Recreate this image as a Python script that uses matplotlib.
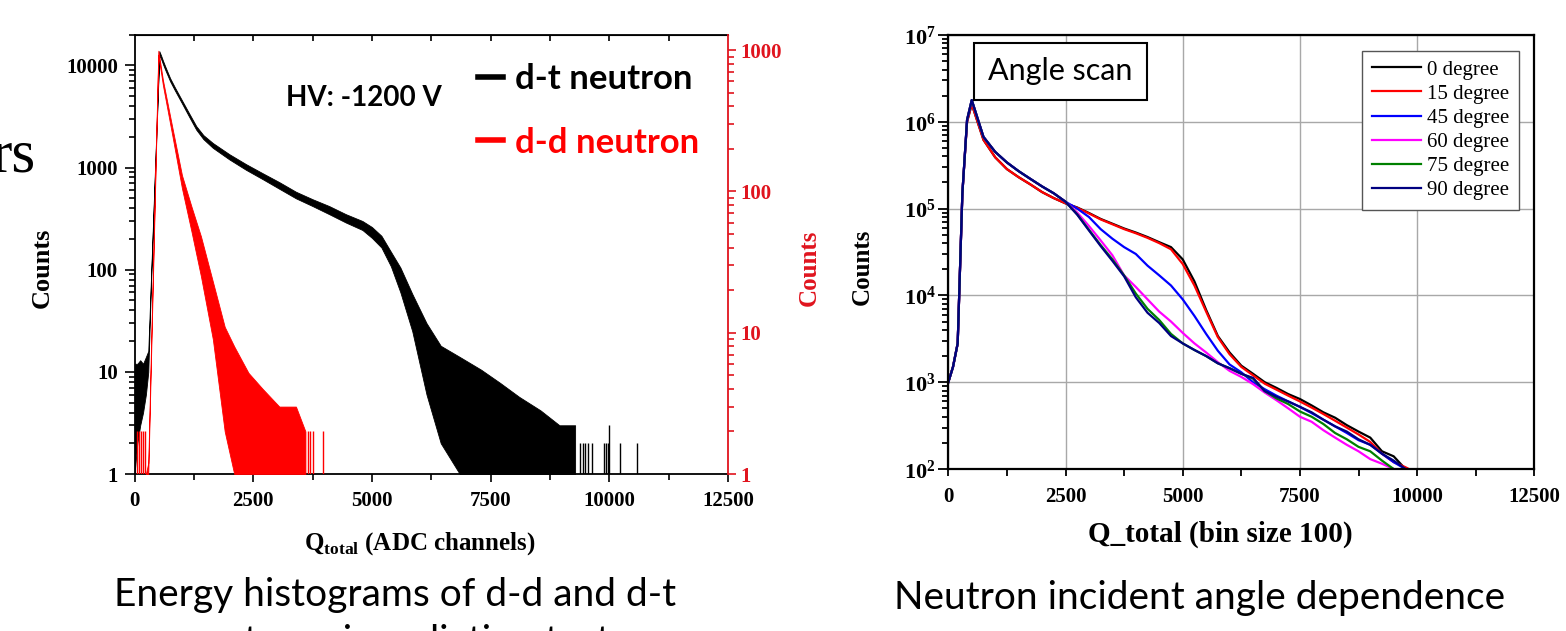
import math
import matplotlib.pyplot as plt
from matplotlib.lines import Line2D
from matplotlib.ticker import FixedLocator, LogLocator, FuncFormatter, NullFormatter

plt.rcParams['mathtext.fontset'] = 'custom'
plt.rcParams['mathtext.rm'] = 'Liberation Serif'
plt.rcParams['mathtext.bf'] = 'Liberation Serif:bold'

SERIF = 'Liberation Serif'
SANS = 'Lato'
AXRED = '#e0141e'

# ---- left panel: d-t (left axis) and d-d (right axis) histograms ----
dt_ch = [0, 60, 120, 180, 240, 290, 350, 400, 450, 500, 522, 560, 600, 650, 750, 850,
         1000, 1150, 1300, 1450, 1650, 2000, 2350, 2700, 3050, 3400, 3750, 4100, 4450,
         4800, 5000, 5200, 5400, 5600, 5850, 6150, 6450, 6850, 7300, 7700, 8100, 8550,
         8950, 9280]
dt_lo = [1, 2, 3, 4, 6, 10, 80, 340, 1500, 6600, 12600, 11600, 10300, 9000, 7000, 5700,
         4250, 3150, 2350, 1900, 1560, 1200, 950, 770, 620, 500, 420, 350, 290,
         245, 205, 165, 108, 60, 25, 6, 2, 1, 1, 1, 1, 1,
         1, 1]
dt_hi = [12, 12, 13, 12, 14, 16, 90, 380, 1650, 7200, 13800, 12500, 11100, 9700, 7500, 6100,
         4550, 3400, 2550, 2080, 1740, 1350, 1080, 880, 720, 580, 490, 420, 350,
         300, 262, 215, 150, 105, 58, 30, 18, 14, 10.5, 7.8, 5.7, 4.2,
         3, 3]
dt_spike_ch = [9383, 9440, 9495, 9558, 9629, 9888, 9931, 9979, 10000, 10225, 10577]
dt_spike_n = [2, 2, 2, 2, 2, 2, 2, 2, 3, 2, 2]

dd_ch = [240, 290, 350, 400, 450, 502, 600, 800, 1000, 1200, 1400, 1650, 1900,
         2100, 2400, 2700, 3050, 3400, 3600]
dd_lo = [1, 1, 7, 35, 175, 920, 560, 245, 105, 52, 25, 9, 2,
         1, 1, 1, 1, 1, 1]
dd_hi = [1, 1.2, 8.5, 41, 200, 990, 610, 280, 130, 78, 48, 23, 11,
         8, 5.2, 4, 3, 3, 2]
dd_spike_ch = [50, 90, 140, 185, 215, 3650, 3700, 3760, 3980]
dd_spike_n = [2, 2, 2, 2, 2, 2, 2, 2, 2]

# ---- right panel: angle scan ----
q = [0, 100, 200, 300, 400, 500, 750, 1000, 1250, 1500, 1750, 2000, 2250, 2500,
     2750, 3000, 3250, 3500, 3750, 4000, 4250, 4500, 4750, 5000, 5250, 5500,
     5750, 6000, 6250, 6500, 6750, 7000, 7250, 7500, 7750, 8000, 8250, 8500,
     8750, 9000, 9250, 9500, 9750, 9900]
head_hi = [1000, 1500, 2800, 1.5e5, 1.05e6, 1.78e6, 6.7e5, 4.5e5, 3.4e5, 2.7e5,
           2.2e5, 1.8e5, 1.5e5, 1.2e5]
head_lo = [1000, 1500, 2800, 1.5e5, 1.0e6, 1.6e6, 6.2e5, 3.9e5, 2.85e5, 2.3e5,
           1.9e5, 1.55e5, 1.32e5, 1.15e5]
deg0 = head_lo + [1.03e5, 8.9e4, 7.6e4, 6.7e4, 5.9e4, 5.3e4, 4.7e4, 4.1e4, 3.6e4,
                  2.6e4, 1.45e4, 6.8e3, 3.4e3, 2.2e3, 1.55e3, 1.25e3, 1.0e3, 860,
                  730, 640, 540, 450, 390, 320, 270, 230, 160, 140, 100, 90]
deg15 = head_lo + [1.02e5, 8.8e4, 7.5e4, 6.6e4, 5.8e4, 5.2e4, 4.6e4, 4.0e4, 3.4e4,
                   2.3e4, 1.3e4, 6.5e3, 3.3e3, 2.1e3, 1.5e3, 1.2e3, 960, 820,
                   700, 600, 510, 430, 360, 300, 250, 205, 150, 120, 105, 95]
deg45 = head_hi + [1.0e5, 8.0e4, 5.8e4, 4.5e4, 3.6e4, 3.0e4, 2.2e4, 1.7e4, 1.3e4,
                   9.0e3, 5.8e3, 3.6e3, 2.3e3, 1.6e3, 1.3e3, 1.0e3, 830, 700,
                   600, 520, 440, 370, 310, 260, 215, 190, 150, 120, 100, 90]
deg60 = head_hi + [9.0e4, 6.3e4, 4.3e4, 2.9e4, 1.7e4, 1.25e4, 9.0e3, 6.5e3, 5.0e3,
                   3.7e3, 2.8e3, 2.2e3, 1.7e3, 1.35e3, 1.15e3, 950, 760, 620,
                   500, 400, 350, 280, 230, 190, 160, 130, 115, 100, 90, 85]
deg75 = head_hi + [8.6e4, 5.7e4, 3.8e4, 2.6e4, 1.7e4, 1.05e4, 7.0e3, 5.2e3, 3.6e3,
                   2.8e3, 2.35e3, 2.0e3, 1.65e3, 1.45e3, 1.25e3, 1.1e3, 790, 650,
                   560, 460, 400, 330, 260, 220, 180, 160, 125, 100, 90, 85]
deg90 = head_hi + [8.5e4, 5.6e4, 3.7e4, 2.5e4, 1.66e4, 9.5e3, 6.3e3, 4.8e3, 3.4e3,
                   2.8e3, 2.35e3, 2.0e3, 1.65e3, 1.45e3, 1.25e3, 1.12e3, 790, 680,
                   600, 520, 450, 370, 310, 270, 220, 190, 150, 125, 100, 90]
angle_labels = ['0 degree', '15 degree', '45 degree', '60 degree', '75 degree', '90 degree']
angle_colors = ['black', 'red', 'blue', 'magenta', 'green', 'navy']
angle_series = [deg0, deg15, deg45, deg60, deg75, deg90]

x_ticks = [0, 2500, 5000, 7500, 10000, 12500]
x_minor = [1250, 3750, 6250, 8750, 11250]

fig = plt.figure(figsize=(15.66, 6.31), dpi=100)

# ================= left panel =================
ax1 = fig.add_axes([0.08589, 0.24881, 0.37899, 0.69620])
ax1.set_yscale('log')
ax1.set_xlim(0, 12500)
ax1.set_ylim(1, 20000)
ax1.fill_between(dt_ch, dt_lo, dt_hi, color='black', lw=0.6)
ax1.vlines(dt_spike_ch, 1, dt_spike_n, color='black', lw=1)

ax2 = ax1.twinx()
ax2.set_yscale('log')
ax2.set_ylim(1, 1285)
ax2.fill_between(dd_ch, dd_lo, dd_hi, color='red', lw=0.6)
ax2.vlines(dd_spike_ch, 1, dd_spike_n, color='red', lw=1)

tick_font = dict(family=SERIF, weight='bold', size=15)
ax1.xaxis.set_major_locator(FixedLocator(x_ticks))
ax1.xaxis.set_minor_locator(FixedLocator(x_minor))
ax1.set_yticks([1, 10, 100, 1000, 10000])
ax1.set_yticklabels(['1', '10', '100', '1000', '10000'])
ax1.yaxis.set_minor_locator(LogLocator(base=10, subs=range(2, 10), numticks=20))
ax1.yaxis.set_minor_formatter(NullFormatter())
ax1.tick_params(axis='both', which='both', direction='out', width=1.2, top=False, right=False)
ax1.tick_params(axis='x', which='major', length=6, pad=6)
ax1.tick_params(axis='x', which='minor', length=4)
ax1.tick_params(axis='y', which='major', length=7, pad=5)
ax1.tick_params(axis='y', which='minor', length=4)
for lab in ax1.get_xticklabels() + ax1.get_yticklabels():
    lab.set(**tick_font)
for s in ax1.spines.values():
    s.set_linewidth(1.3)
ax1.spines['right'].set_visible(False)

top = ax1.secondary_xaxis('top')
top.set_xticks(x_ticks[1:-1] + x_minor)
top.tick_params(direction='in', length=4, width=1.2, labeltop=False)

ax2.set_yticks([1, 10, 100, 1000])
ax2.set_yticklabels(['1', '10', '100', '1000'])
ax2.yaxis.set_minor_locator(LogLocator(base=10, subs=range(2, 10), numticks=20))
ax2.yaxis.set_minor_formatter(NullFormatter())
ax2.tick_params(axis='y', which='both', direction='out', color=AXRED, labelcolor=AXRED, width=1.2)
ax2.tick_params(axis='y', which='major', length=6, pad=3)
ax2.tick_params(axis='y', which='minor', length=4)
for lab in ax2.get_yticklabels():
    lab.set(**tick_font)
for k in ['left', 'top', 'bottom']:
    ax2.spines[k].set_visible(False)
ax2.spines['right'].set_color(AXRED)
ax2.spines['right'].set_linewidth(1.3)

ax1.set_xlabel(r'Q$_{\mathbf{total}}$ (ADC channels)', family=SERIF, weight='bold', size=18)
ax1.xaxis.set_label_coords(0.48, -0.128)
ax1.set_ylabel('Counts', family=SERIF, weight='bold', size=19)
ax1.yaxis.label.set(ha='center', va='center', rotation_mode='default')
ax1.yaxis.set_label_coords(-0.156, 0.47)
ax2.set_ylabel('Counts', family=SERIF, weight='bold', size=18, color=AXRED)
ax2.yaxis.label.set(ha='center', va='center', rotation=90, rotation_mode='default')
ax2.yaxis.set_label_coords(1.137, 0.47)

ax1.text(0.255, 0.856, 'HV: -1200 V', transform=ax1.transAxes, family=SANS,
         weight='bold', size=20, ha='left', va='center')
handles = [Line2D([], [], color='black', lw=4), Line2D([], [], color='red', lw=4)]
ax2.legend(handles, ['d-t neutron', 'd-d neutron'], loc='upper left',
           bbox_to_anchor=(0.578, 0.935), frameon=False, borderpad=0, borderaxespad=0,
           prop=dict(family=SANS, weight='bold', size=25), labelcolor=['black', 'red'],
           handlelength=0.72, handletextpad=0.35, labelspacing=0.9)

# ================= right panel =================
ax3 = fig.add_axes([0.60556, 0.25674, 0.37420, 0.68780])
ax3.set_yscale('log')
ax3.set_xlim(0, 12500)
ax3.set_ylim(1e2, 1e7)
for ys, c, lab in zip(angle_series, angle_colors, angle_labels):
    ax3.plot(q, ys, color=c, lw=1.6, label=lab)
ax3.grid(True, which='major', color='#a8a8a8', lw=1.0)
ax3.set_axisbelow(True)
ax3.xaxis.set_major_locator(FixedLocator(x_ticks))
ax3.xaxis.set_minor_locator(FixedLocator(x_minor))
ax3.yaxis.set_major_locator(LogLocator(base=10, numticks=10))
ax3.yaxis.set_major_formatter(FuncFormatter(lambda v, p: r'$\mathbf{10^{%d}}$' % round(math.log10(v))))
ax3.yaxis.set_minor_locator(LogLocator(base=10, subs=range(2, 10), numticks=20))
ax3.yaxis.set_minor_formatter(NullFormatter())
ax3.tick_params(axis='both', which='both', direction='out', width=1.3)
ax3.tick_params(axis='x', which='both', length=5, pad=8)
ax3.tick_params(axis='y', which='major', length=7, pad=2)
ax3.tick_params(axis='y', which='minor', length=4)
for lab in ax3.get_xticklabels():
    lab.set(**tick_font)
for lab in ax3.get_yticklabels():
    lab.set(size=16)
for s in ax3.spines.values():
    s.set_linewidth(1.6)
ax3.set_xlabel('Q_total (bin size 100)', family=SERIF, weight='bold', size=21)
ax3.xaxis.set_label_coords(0.465, -0.12)
ax3.set_ylabel('Counts', family=SERIF, weight='bold', size=18)
ax3.yaxis.label.set(ha='center', va='center', rotation_mode='default')
ax3.yaxis.set_label_coords(-0.147, 0.465)

ax3.text(0.1913, 0.916, 'Angle scan', transform=ax3.transAxes, family=SANS, size=22,
         ha='center', va='center',
         bbox=dict(boxstyle='square,pad=0.48', fc='white', ec='black', lw=1.5))
leg = ax3.legend(loc='upper right', prop=dict(family=SERIF, size=15), frameon=True,
                 fancybox=False, framealpha=1, edgecolor='#555555', borderpad=0.45,
                 borderaxespad=0.75, handlelength=2.35, handletextpad=0.3,
                 labelspacing=0.22)
leg.get_frame().set_linewidth(1.0)

# ================= slide text =================
fig.text(-8 / 1566, 1 - 172 / 631, 'rs', family=SERIF, size=44, ha='left', va='baseline')
fig.text(395 / 1566, 1 - 606 / 631, 'Energy histograms of d-d and d-t', family=SANS,
         size=28, ha='center', va='baseline')
fig.text(395 / 1566, 1 - 653 / 631, 'neutrons in radiation test', family=SANS,
         size=28, ha='center', va='baseline')
fig.text(1200 / 1566, 1 - 609 / 631, 'Neutron incident angle dependence', family=SANS,
         size=28, ha='center', va='baseline')

fig.savefig('out.png', dpi=100)
